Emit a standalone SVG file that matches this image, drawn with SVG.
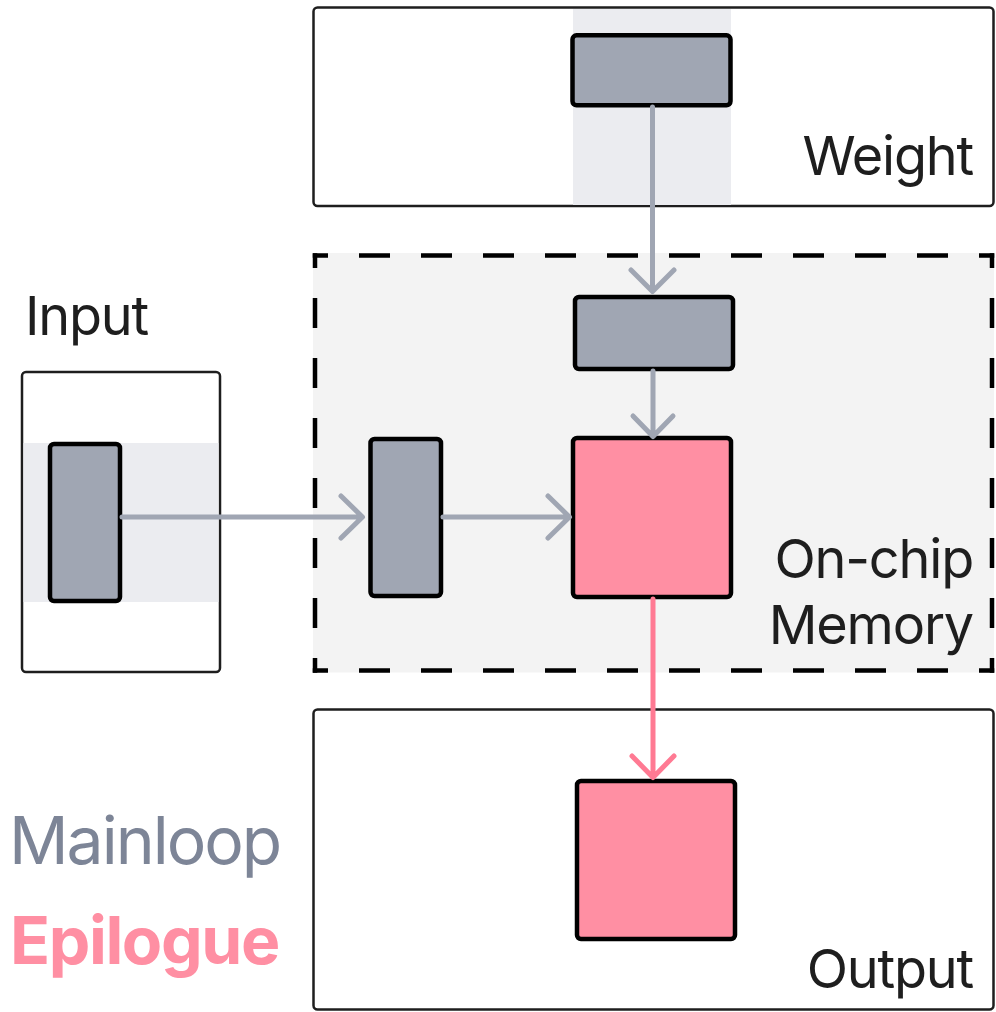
<svg xmlns="http://www.w3.org/2000/svg" width="996" height="1012" viewBox="0 0 996 1012">
<style>
.box{fill:#ffffff;stroke:#1e1e1e;stroke-width:2.5}
.band{fill:#ebecf0}
.g{fill:#a0a6b3;stroke:#000;stroke-width:4.5}
.p{fill:#ff8fa3;stroke:#000;stroke-width:4.5}
.lbl{font-family:Inter,"Liberation Sans",sans-serif;font-size:54px;fill:#1e1e1e;letter-spacing:-1.2px}
.ga{fill:none;stroke:#a0a6b3;stroke-width:5;stroke-linecap:round;stroke-linejoin:round}
.pa{fill:none;stroke:#ff7a93;stroke-width:5;stroke-linecap:round;stroke-linejoin:round}
.dh{stroke:#000;stroke-width:4.5;stroke-dasharray:31 31;stroke-dashoffset:15.75}
.dv{stroke:#000;stroke-width:4.5;stroke-dasharray:30 30;stroke-dashoffset:15.25}
</style>
<g id="weight">
<rect class="box" x="313.5" y="7.5" width="680" height="198.5" rx="4"/>
<rect class="band" x="573" y="9" width="158" height="196"/>
<rect class="g" x="572.5" y="35.3" width="158" height="70" rx="4"/>
<text class="lbl" x="973" y="175" text-anchor="end">Weight</text>
</g>
<g id="onchip">
<rect x="313" y="253" width="681" height="419.5" fill="#f3f3f3"/>
<line class="dh" x1="312.75" y1="255.5" x2="994.25" y2="255.5"/>
<line class="dh" x1="312.75" y1="670.5" x2="994.25" y2="670.5"/>
<line class="dv" x1="315" y1="253.25" x2="315" y2="672.75"/>
<line class="dv" x1="992" y1="253.25" x2="992" y2="672.75"/>
<rect class="g" x="575" y="297" width="158" height="72" rx="4"/>
<rect class="g" x="370.5" y="439" width="70.5" height="157" rx="4"/>
<rect class="p" x="573" y="438" width="158" height="159" rx="4"/>
<text class="lbl" x="973" y="578" text-anchor="end">On-chip</text>
<text class="lbl" x="973" y="644" text-anchor="end">Memory</text>
</g>
<g id="input">
<text class="lbl" x="25" y="335">Input</text>
<rect class="box" x="22" y="372" width="198" height="300" rx="4"/>
<rect class="band" x="23.5" y="443" width="195" height="159"/>
<rect class="g" x="50" y="444" width="70" height="157" rx="4"/>
</g>
<g id="output">
<rect class="box" x="313.5" y="709.5" width="680" height="300" rx="4"/>
<rect class="p" x="577" y="781" width="158" height="158" rx="4"/>
<text class="lbl" x="973" y="988" text-anchor="end">Output</text>
</g>
<g id="legend">
<text x="9" y="864" font-family="Inter,'Liberation Sans',sans-serif" font-size="66" letter-spacing="-2" fill="#7d8597">Mainloop</text>
<text x="10" y="964" font-family="Inter,'Liberation Sans',sans-serif" font-size="66" font-weight="bold" letter-spacing="-1.4" fill="#ff8fa3">Epilogue</text>
</g>
<g id="connectors">
<path class="ga" d="M652.5 107 V291 M631 270 L652.5 291.5 L674 270"/>
<path class="ga" d="M653 371 V436 M633 416 L653 436.5 L673 416"/>
<path class="ga" d="M122 517 H362 M341 496 L362.5 517 L341 538"/>
<path class="ga" d="M443 517 H569 M548 496 L569.5 517 L548 538"/>
<path class="pa" d="M653 599 V777 M632 756 L653 777.5 L674 756"/>
</g>
</svg>
